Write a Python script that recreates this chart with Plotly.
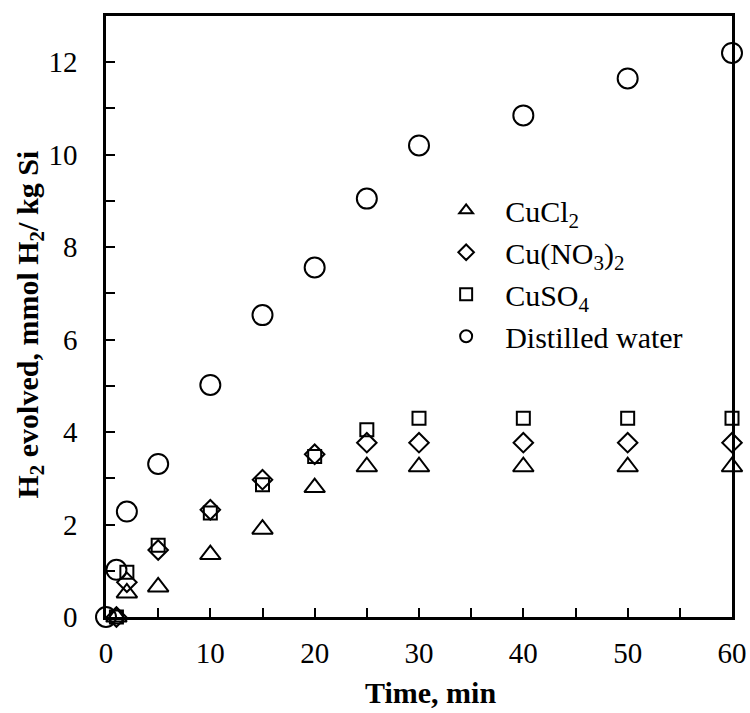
import plotly.graph_objects as go

time_salt = [1, 2, 5, 10, 15, 20, 25, 30, 40, 50, 60]
cucl2 = [0, 0.52, 0.65, 1.35, 1.9, 2.8, 3.25, 3.25, 3.25, 3.25, 3.25]
cuno3 = [0, 0.75, 1.45, 2.32, 2.97, 3.52, 3.77, 3.77, 3.77, 3.77, 3.77]
cuso4 = [0, 0.97, 1.55, 2.25, 2.86, 3.47, 4.05, 4.3, 4.3, 4.3, 4.3]

time_water = [0, 1, 2, 5, 10, 15, 20, 25, 30, 40, 50, 60]
water = [0, 1.02, 2.28, 3.31, 5.02, 6.53, 7.56, 9.05, 10.2, 10.85, 11.65, 12.2]

names = ["CuCl<sub>2</sub>", "Cu(NO<sub>3</sub>)<sub>2</sub>", "CuSO<sub>4</sub>", "Distilled water"]

FONT = "Liberation Serif, Times New Roman, serif"

fig = go.Figure()
fig.add_trace(go.Scatter(x=time_salt, y=cucl2, mode="markers", name=names[0], cliponaxis=False,
                         marker=dict(symbol="triangle-up-open", size=18, color="black", line=dict(width=2))))
fig.add_trace(go.Scatter(x=time_salt, y=cuno3, mode="markers", name=names[1], cliponaxis=False,
                         marker=dict(symbol="diamond-open", size=15, color="black", line=dict(width=2))))
fig.add_trace(go.Scatter(x=time_salt, y=cuso4, mode="markers", name=names[2], cliponaxis=False,
                         marker=dict(symbol="square-open", size=13, color="black", line=dict(width=2))))
fig.add_trace(go.Scatter(x=time_water, y=water, mode="markers", name=names[3], cliponaxis=False,
                         marker=dict(symbol="circle-open", size=20, color="black", line=dict(width=2))))

axis_common = dict(
    showgrid=False, zeroline=False, showline=True, linecolor="black", linewidth=2.5,
    mirror=True, ticks="inside", ticklen=9, tickwidth=1.5, tickcolor="black",
    automargin=False,
    tickfont=dict(family=FONT, size=29, color="black"),
)

fig.update_xaxes(range=[0, 60], dtick=10, tick0=0, ticklabelstandoff=8,
                 minor=dict(dtick=5, ticks="inside", ticklen=9, tickwidth=1.5, tickcolor="black"),
                 **axis_common)
fig.update_yaxes(range=[0, 13], tickvals=[0, 2, 4, 6, 8, 10, 12], ticklabelstandoff=20,
                 minor=dict(dtick=1, tick0=0, ticks="inside", ticklen=9, tickwidth=1.5, tickcolor="black"),
                 **axis_common)

fig.add_annotation(text="<b>Time, min</b>", xref="paper", yref="paper",
                   x=0.519, y=-0.126, xanchor="center", yanchor="middle", showarrow=False,
                   font=dict(family=FONT, size=30, color="black"))
fig.add_annotation(text="<b>H<sub>2</sub> evolved, mmol H<sub>2</sub>/ kg Si</b>", xref="paper", yref="paper",
                   x=-0.122, y=0.486, xanchor="center", yanchor="middle", textangle=-90, showarrow=False,
                   font=dict(family=FONT, size=30, color="black"))

fig.update_layout(
    width=750, height=713,
    margin=dict(l=106, r=18, t=16, b=96),
    paper_bgcolor="white", plot_bgcolor="white",
    font=dict(family=FONT, color="black"),
    showlegend=True,
    legend=dict(x=0.513, y=0.72, xanchor="left", yanchor="top",
                font=dict(family=FONT, size=30, color="black"),
                bgcolor="rgba(0,0,0,0)", itemsizing="constant", itemwidth=68,
                tracegroupgap=0),
)

fig.write_html("out.html")
